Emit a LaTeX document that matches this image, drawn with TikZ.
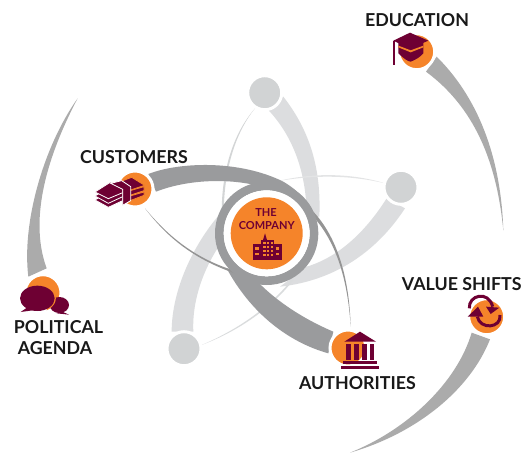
\documentclass[tikz,border=0pt]{standalone}
\usepackage{fontspec}
\setmainfont{Lato}
\definecolor{maroon}{HTML}{6E0033}
\definecolor{orng}{HTML}{F5842A}
\definecolor{lband}{HTML}{DCDDDF}
\definecolor{ldisc}{HTML}{D1D3D4}
\definecolor{dband}{HTML}{9A9B9D}
\definecolor{oband}{HTML}{ABABAB}
\tikzset{
 zo/.style={shift={(80,70)},scale=1/3},
 ztwo/.style={shift={(360,0)},scale=1/3},
 zthree/.style={shift={(340,260)},scale=1/3},
 zfour/.style={shift={(0,90)},scale=1/3},
 disc/.style={circle,fill=ldisc,draw=white,line width=3pt,minimum size=34pt,inner sep=0pt},
 hub/.style={circle,fill=orng,draw=white,line width=3pt,minimum size=#1,inner sep=0pt},
 lbl/.style={font=\fontsize{17.8}{21}\selectfont\bfseries,text=black!90,inner sep=0pt,align=center},
 ico/.style={fill=maroon,draw=none}
}
\begin{document}
\begin{tikzpicture}[x=1pt,y=-1pt]
\fill[white] (0,0) rectangle (524,453);
\useasboundingbox (0,0) rectangle (524,453);
% light swooshes
\begin{scope}[zo]
\fill[lband] (610,80) .. controls (680,170) and (725,280) .. (718,440) -- (680,440) .. controls (680,310) and (640,200) .. (565,120) -- cycle;
\fill[lband] (275,785) .. controls (275,660) and (340,520) .. (430,420) -- (445,490) .. controls (380,570) and (335,680) .. (340,785) -- cycle;
\fill[lband] (975,415) .. controls (900,530) and (780,630) .. (600,650) -- (680,590) .. controls (780,560) and (860,480) .. (920,385) -- cycle;
\fill[ldisc!80!lband] (525,115) .. controls (460,190) and (425,300) .. (425,430) -- (431,430) .. controls (432,300) and (465,190) .. cycle;
\fill[ldisc!60!white] (915,340) .. controls (800,305) and (660,305) .. (520,355) -- (520,350) .. controls (660,312) and (800,312) .. cycle;
\fill[ldisc!80!white] (365,825) .. controls (470,785) and (570,720) .. (640,630) -- (636,628) .. controls (565,716) and (470,780) .. cycle;
\end{scope}
\node[disc] (dtop) at (264.7,92.7) {};
\node[disc] (dright) at (401,187.3) {};
\node[disc] (dleft) at (184,348.7) {};
% dark swooshes
\begin{scope}[zo]
\fill[dband] (205,312) .. controls (300,275) and (480,270) .. (610,335) .. controls (670,370) and (705,420) .. (714,480) -- (690,480) .. controls (680,430) and (640,390) .. (590,365) .. controls (480,320) and (330,325) .. (228,365) -- cycle;
\fill[dband] (760,785) .. controls (650,738) and (565,675) .. (510,610) -- (440,595) .. controls (510,725) and (620,815) .. (745,850) -- cycle;
\fill[black!42] (195,415) .. controls (260,500) and (340,570) .. (480,615) -- (470,604) .. controls (345,567) and (263,497) .. cycle;
\fill[black!42] (812,770) .. controls (808,620) and (770,500) .. (700,425) -- (696,436) .. controls (764,508) and (803,620) .. cycle;
% ring
\fill[dband,even odd rule] (560,490) circle[radius=155] (560,490) circle[radius=129];
\fill[white] (560,490) circle[radius=129];
\end{scope}
% outer swooshes
\begin{scope}[ztwo]
\fill[oband] (230,170) .. controls (290,230) and (420,380) .. (430,692) .. controls (410,480) and (340,320) .. (198,215) -- cycle;
\end{scope}
\begin{scope}[zthree]
\fill[oband] (395,218) .. controls (350,370) and (200,510) .. (30,578) .. controls (230,520) and (390,390) .. (450,238) -- cycle;
\end{scope}
\begin{scope}[zfour]
\fill[oband] (85,560) .. controls (65,400) and (130,170) .. (233,25) .. controls (130,220) and (90,400) .. (140,535) -- cycle;
\end{scope}
% hubs
\node[hub=72pt,draw=none] (company) at (266.7,233.3) {};
\node[hub=36pt] (customers) at (135,189) {};
\node[hub=36pt] (authorities) at (348,348) {};
\node[hub=36pt] (education) at (416.7,51.7) {};
\node[hub=36pt] (shifts) at (486.7,316.7) {};
\node[hub=36pt] (political) at (43,292.7) {};
% labels
\node[lbl] (lcust) at (134,157) {CUSTOMERS};
\node[lbl] (ledu) at (417,20) {EDUCATION};
\node[lbl] (lval) at (461.7,284) {VALUE SHIFTS};
\node[lbl] (lauth) at (357.5,383) {AUTHORITIES};
\node[lbl] (lpol) at (58.5,327) {POLITICAL};
\node[lbl] (lage) at (55,348) {AGENDA};
\node[font=\fontsize{11}{13}\selectfont\bfseries,text=maroon,inner sep=0pt] (lthe) at (266,212.3) {THE};
\node[font=\fontsize{11}{13}\selectfont\bfseries,text=maroon,inner sep=0pt] (lcomp) at (266.7,225.3) {COMPANY};
% building
\begin{scope}[zo]
\fill[ico] (518,522) rectangle (605,570);
\fill[ico] (544,510) rectangle (581,570);
\fill[ico] (549,510) -- (555,490) -- (561,510) -- cycle;
\foreach \yy in {516,528,540,552}{\foreach \xx in {550,561,572}{\fill[orng] (\xx,\yy) rectangle ++(7,7);}}
\foreach \yy in {532,548}{\fill[orng] (526,\yy) rectangle ++(11,8);\fill[orng] (587,\yy) rectangle ++(11,8);}
% temple
\fill[ico] (793,815) -- (840,785) -- (888,815) -- cycle;
\fill[ico] (798,822) rectangle (812,870);
\fill[ico] (822,822) rectangle (836,870);
\fill[ico] (847,822) rectangle (860,870);
\fill[ico] (871,822) rectangle (882,870);
\fill[ico] (790,873) rectangle (890,881);
\fill[ico] (783,887) rectangle (897,897);
% money
\begin{scope}[line width=.8pt,draw=white]
\filldraw[fill=maroon] (45,390) -- (92,362) -- (128,378) -- (128,392) -- (85,412) -- cycle;
\filldraw[fill=maroon] (45,378) -- (92,350) -- (128,366) -- (128,380) -- (85,400) -- cycle;
\filldraw[fill=maroon] (45,366) -- (92,336) -- (128,352) -- (128,368) -- (85,386) -- cycle;
\filldraw[fill=maroon,draw=orng] (150,378) -- (192,366) -- (192,376) -- (150,392) -- cycle;
\filldraw[fill=maroon,draw=orng] (150,362) -- (192,350) -- (192,362) -- (150,376) -- cycle;
\filldraw[fill=maroon,draw=orng] (118,336) -- (155,322) -- (194,346) -- (152,360) -- cycle;
\filldraw[fill=maroon] (92,340) -- (125,332) -- (152,350) -- (152,392) -- (128,406) -- (128,358) -- cycle;
\end{scope}
\end{scope}
% cap
\begin{scope}[ztwo]
\fill[ico] (115,128) -- (115,160) .. controls (130,175) and (145,185) .. (152,185) .. controls (165,180) and (180,172) .. (190,160) -- (190,128) -- cycle;
\fill[orng] (115,142) -- (152,157) -- (190,142) -- (190,137) -- (152,151) -- (115,137) -- cycle;
\fill[ico] (100,122) -- (150,98) -- (205,122) -- (150,146) -- cycle;
\fill[ico] (98,124) rectangle (105,195);
\end{scope}
% cycle arrows
\begin{scope}[zthree]
\draw[maroon,line width=3pt] (388,145) .. controls (385,105) and (445,90) .. (458,140);
\fill[ico] (438,140) -- (478,143) -- (452,162) -- cycle;
\draw[maroon,line width=3pt] (480,165) .. controls (485,205) and (420,210) .. (412,170);
\fill[ico] (383,170) -- (430,170) -- (414,140) -- cycle;
\end{scope}
% speech
\begin{scope}[zfour]
\fill[ico] (178,645) ellipse[x radius=29,y radius=24];
\fill[ico] (180,662) -- (207,674) -- (170,670) -- cycle;
\begin{scope}
\clip (140,560) rectangle (200,680);
\draw[orng,line width=1.6pt] (112,625) ellipse[x radius=53,y radius=39];
\end{scope}
\fill[ico] (112,625) ellipse[x radius=52,y radius=38];
\fill[ico] (85,650) -- (62,666) -- (105,660) -- cycle;
\end{scope}
\end{tikzpicture}
\end{document}
